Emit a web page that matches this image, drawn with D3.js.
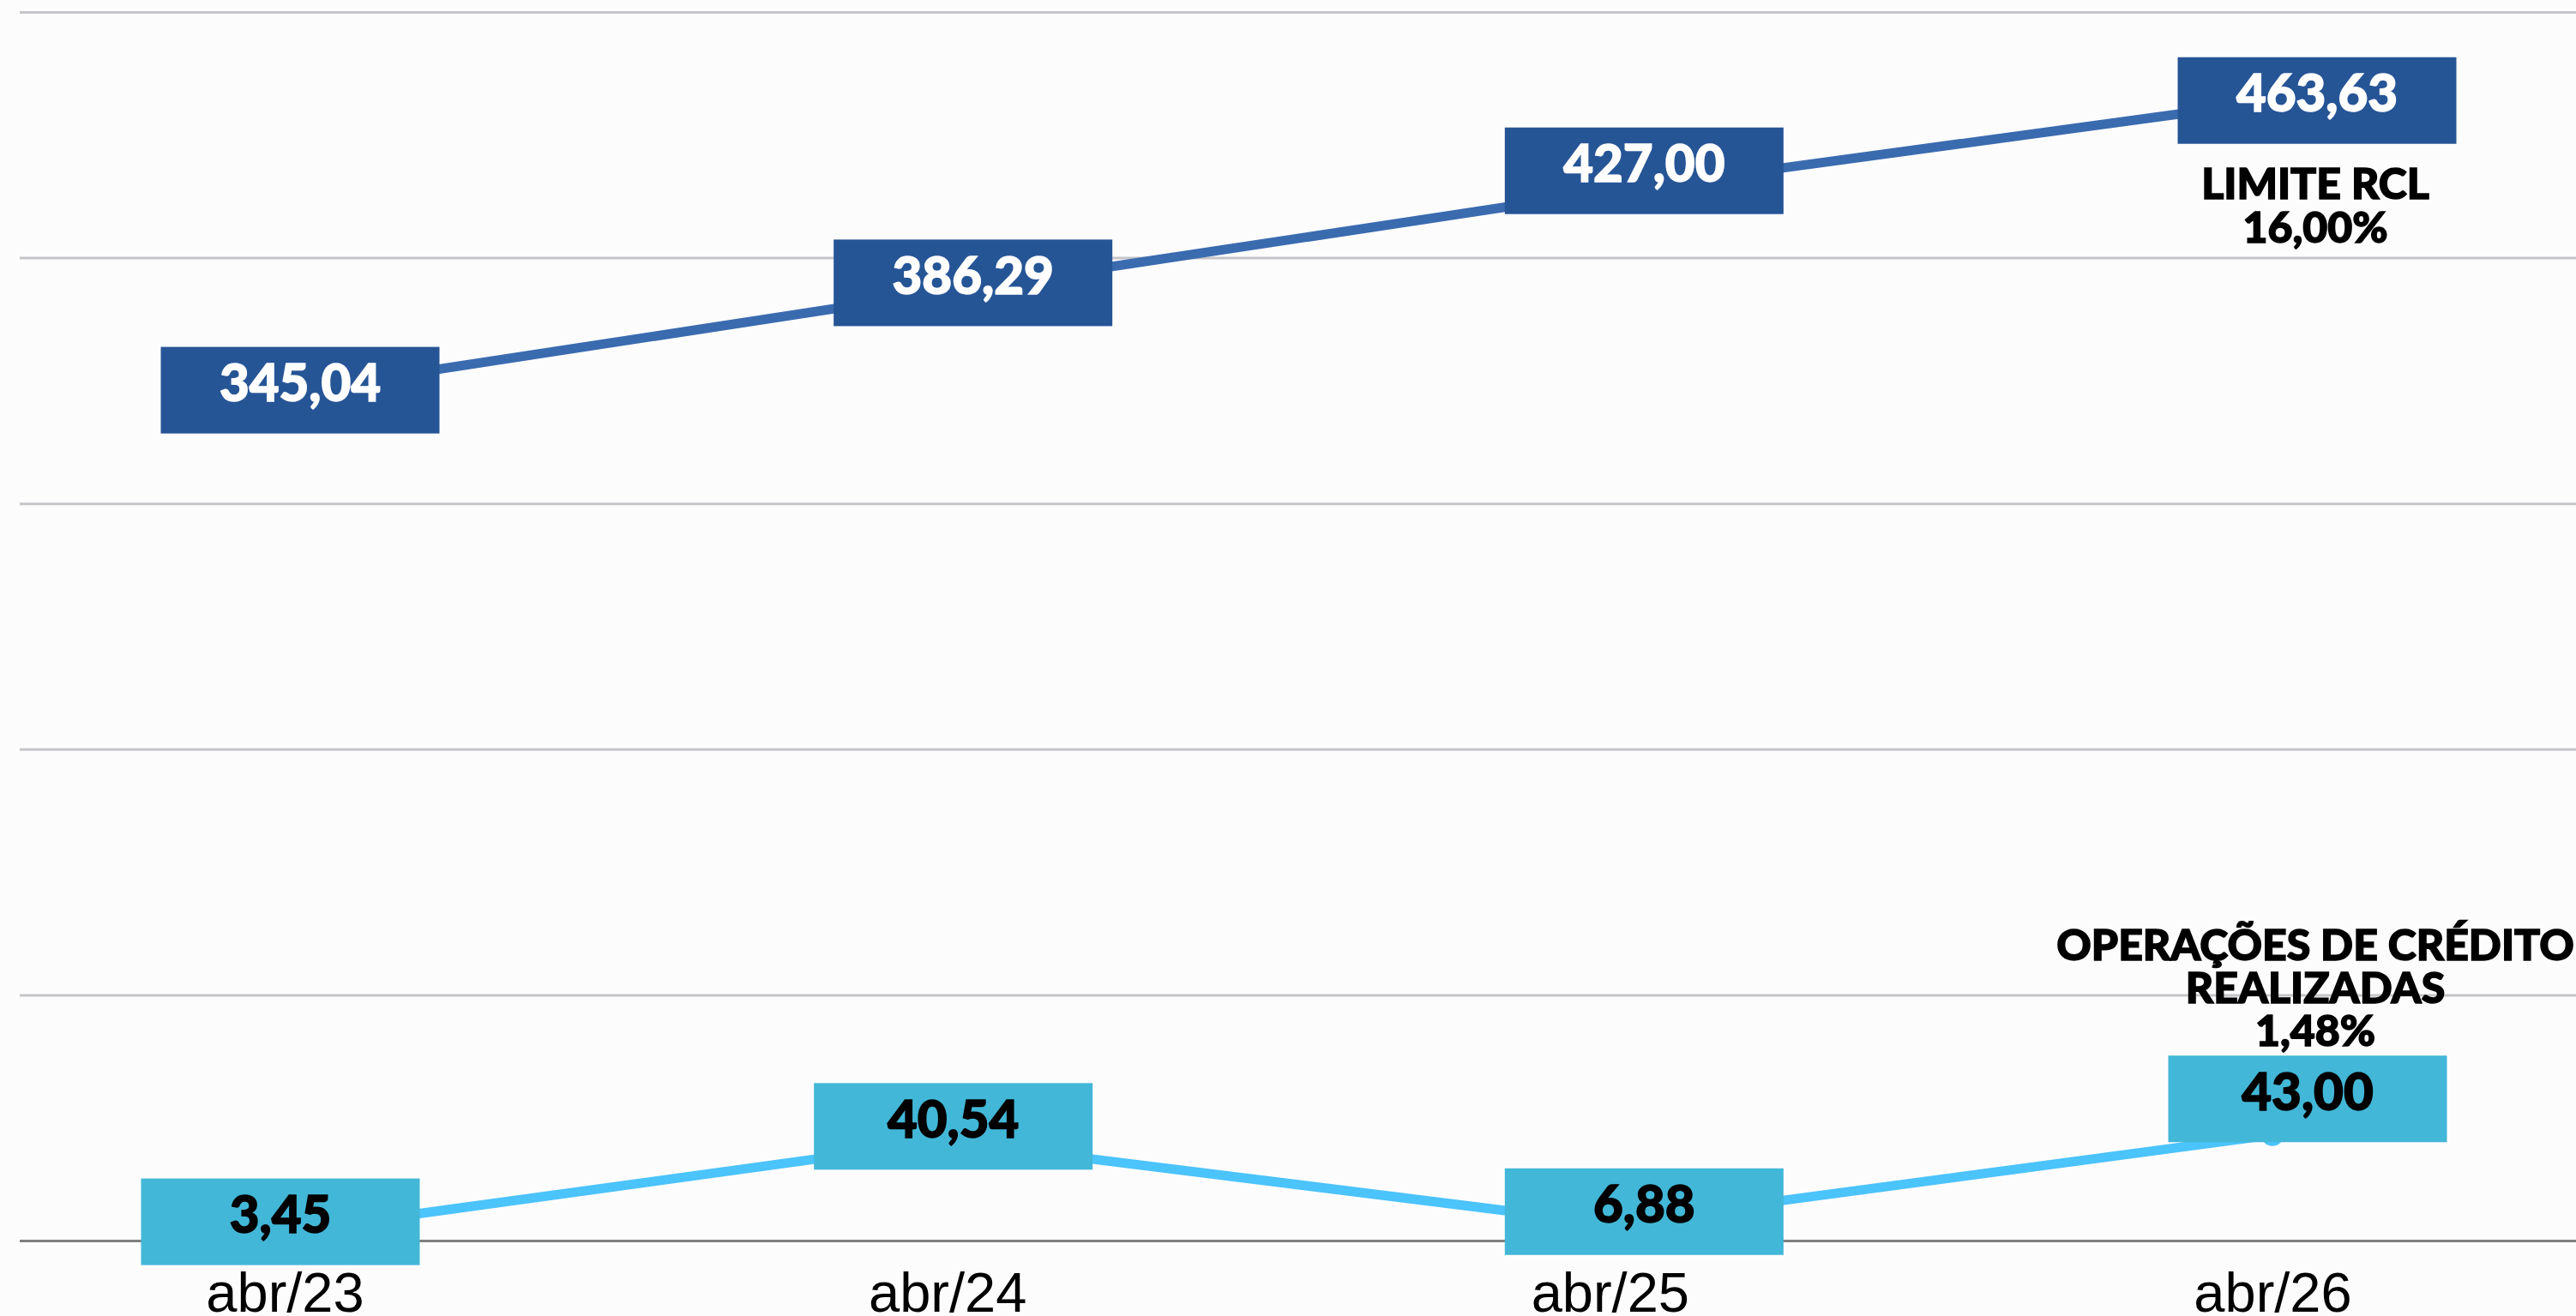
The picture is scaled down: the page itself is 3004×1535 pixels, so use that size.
<!DOCTYPE html>
<html>
<head>
<meta charset="utf-8">
<script src="https://cdnjs.cloudflare.com/ajax/libs/d3/7.8.5/d3.min.js"></script>
<style>
  html, body { margin: 0; padding: 0; background: #fdfcfd; }
  svg { display: block; }
</style>
</head>
<body>
<svg id="chart"></svg>
<script>
var CATEGORIES = ["abr/23", "abr/24", "abr/25", "abr/26"]
var LIMITE_RCL = [345.04, 386.29, 427.00, 463.63]
var OPERACOES = [3.45, 40.54, 6.88, 43.00]
var Y_TICKS = [0, 100, 200, 300, 400, 500]
var LIMITE_NAME = ["LIMITE RCL", "16,00%"]
var OPERACOES_NAME = ["OPERAÇÕES DE CRÉDITO", "REALIZADAS", "1,48%"]

main()

function main() {
  var WIDTH = 3004
  var HEIGHT = 1535
  var PLOT_LEFT = 23
  var Y_TOP = 14
  var Y_BOTTOM = 1447
  var X_FIRST = 332
  var X_LAST = 2650
  var BOX_W = 325
  var BOX_H = 101
  var DOT_R = 13

  // manual data label nudges (as placed in the original), dx/dy from the point
  var UPPER_NUDGE = [[18, -3], [30, -10], [40, -24], [52, -1]]
  var LOWER_NUDGE = [[-5, -12], [7, -17], [40, -14], [41, -42]]

  var LABEL_FONT = "Lato, 'DejaVu Sans', sans-serif"

  var svg = d3.select("#chart")
      .attr("width", WIDTH)
      .attr("height", HEIGHT)

  svg.append("rect")
      .attr("width", WIDTH)
      .attr("height", HEIGHT)
      .attr("fill", "#fdfcfd")

  var x = d3.scalePoint()
      .domain(CATEGORIES)
      .range([X_FIRST, X_LAST])

  var y = d3.scaleLinear()
      .domain([0, 500])
      .range([Y_BOTTOM, Y_TOP])

  // gridlines
  var grid = svg.append("g")
      .attr("transform", "translate(" + PLOT_LEFT + ",0)")
      .call(d3.axisLeft(y).tickValues(Y_TICKS).tickSize(-(WIDTH - PLOT_LEFT)).tickFormat(""))

  grid.select(".domain").remove()
  grid.selectAll(".tick line")
      .attr("stroke", function(d) { return d === 0 ? "#7f7f80" : "#c5c4c8" })
      .attr("stroke-width", 3)

  // category axis
  var xAxis = svg.append("g")
      .attr("transform", "translate(0," + Y_BOTTOM + ")")
      .call(d3.axisBottom(x).tickSize(0))

  xAxis.select(".domain").remove()
  xAxis.selectAll(".tick text")
      .attr("y", 83)
      .attr("dy", null)
      .attr("fill", "#000")
      .attr("font-family", "'Liberation Sans', Arial, sans-serif")
      .attr("font-size", 65)

  var series = [
    { values: LIMITE_RCL, line: "#3a6baf", box: "#265596", text: "#ffffff", nudge: UPPER_NUDGE },
    { values: OPERACOES, line: "#4bc3fb", box: "#42b7d7", text: "#000000", nudge: LOWER_NUDGE }
  ]

  var line = d3.line()
      .x(function(d, i) { return x(CATEGORIES[i]) })
      .y(function(d) { return y(d) })

  series.forEach(function(s) {
    svg.append("path")
        .datum(s.values)
        .attr("d", line)
        .attr("fill", "none")
        .attr("stroke", s.line)
        .attr("stroke-width", 11)

    svg.selectAll(null)
        .data(s.values)
        .enter()
        .append("circle")
        .attr("cx", function(d, i) { return x(CATEGORIES[i]) })
        .attr("cy", function(d) { return y(d) })
        .attr("r", DOT_R)
        .attr("fill", s.line)
  })

  series.forEach(function(s) {
    var labels = svg.selectAll(null)
        .data(s.values)
        .enter()
        .append("g")
        .attr("transform", function(d, i) {
          var cx = x(CATEGORIES[i]) + s.nudge[i][0]
          var cy = y(d) + s.nudge[i][1]
          return "translate(" + cx + "," + cy + ")"
        })

    labels.append("rect")
        .attr("x", -BOX_W / 2)
        .attr("y", -BOX_H / 2)
        .attr("width", BOX_W)
        .attr("height", BOX_H)
        .attr("fill", s.box)

    labels.append("text")
        .attr("y", 13)
        .attr("text-anchor", "middle")
        .attr("fill", s.text)
        .attr("stroke", s.text)
        .attr("stroke-width", 1.5)
        .attr("font-family", LABEL_FONT)
        .attr("font-weight", 900)
        .attr("font-size", 60)
        .text(function(d) { return d.toFixed(2).replace(".", ",") })
  })

  // series names next to the last point
  var last = CATEGORIES.length - 1
  var nameX = x(CATEGORIES[last]) + 50

  var upperBoxBottom = y(LIMITE_RCL[last]) + UPPER_NUDGE[last][1] + BOX_H / 2
  svg.append("text")
      .attr("text-anchor", "middle")
      .attr("font-family", LABEL_FONT)
      .attr("font-weight", 900)
      .attr("font-size", 50)
      .attr("fill", "#000")
      .attr("stroke", "#000")
      .attr("stroke-width", 1.5)
      .selectAll("tspan")
      .data(LIMITE_NAME)
      .enter()
      .append("tspan")
      .attr("x", nameX)
      .attr("y", function(d, i) { return upperBoxBottom + 64 + i * 51 })
      .text(function(d) { return d })

  var lowerBoxTop = y(OPERACOES[last]) + LOWER_NUDGE[last][1] - BOX_H / 2
  svg.append("text")
      .attr("text-anchor", "middle")
      .attr("font-family", LABEL_FONT)
      .attr("font-weight", 900)
      .attr("font-size", 50)
      .attr("fill", "#000")
      .attr("stroke", "#000")
      .attr("stroke-width", 1.5)
      .selectAll("tspan")
      .data(OPERACOES_NAME)
      .enter()
      .append("tspan")
      .attr("x", nameX)
      .attr("y", function(d, i) { return lowerBoxTop - 111 + i * 50 })
      .text(function(d) { return d })
}
</script>
</body>
</html>
